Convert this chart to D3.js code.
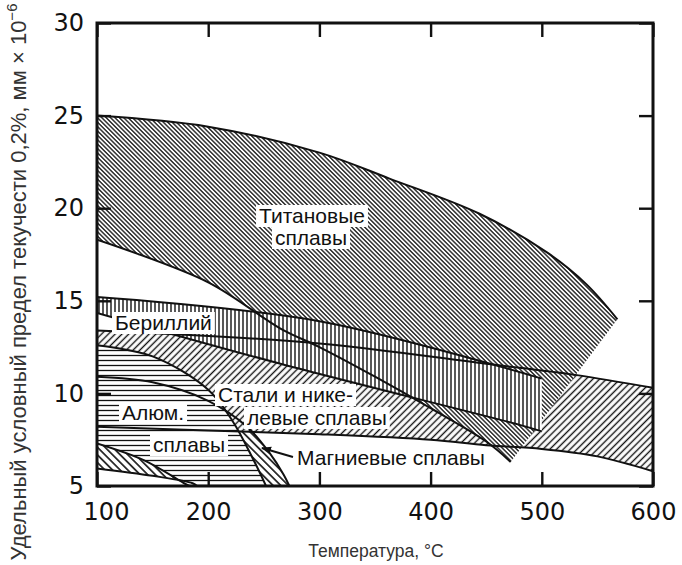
<!DOCTYPE html>
<html>
<head>
<meta charset="utf-8">
<script src="https://cdn.jsdelivr.net/npm/d3@7"></script>
<style>
  body { margin: 0; background: #fff; }
  svg { display: block; }
  .tick text { font-family: "DejaVu Sans", sans-serif; font-size: 24px; fill: #111; }
  .lbl { font-family: "Liberation Sans", Arial, sans-serif; font-size: 21px; fill: #111; }
  .title { font-family: "Liberation Sans", Arial, sans-serif; fill: #333; }
</style>
</head>
<body>
<div id="chart"></div>
<script>
// temperature ticks and value ticks
const xTicks = [100, 200, 300, 400, 500, 600]
const yTicks = [5, 10, 15, 20, 25, 30]

// band boundaries, [temperature, value]
const tiUpper = [[100, 25.0], [200, 24.4], [300, 23.0], [363, 21.6], [444, 19.7], [505, 17.6], [540, 15.9], [568, 14.0]]
const tiLower = [[100, 18.3], [200, 16.0], [265, 13.5], [300, 12.5], [350, 10.9], [400, 9.2], [450, 7.4], [472, 6.3]]
const beUpper = [[100, 15.2], [300, 13.9], [500, 10.8]]
const beLower = [[100, 14.35], [265, 11.6], [480, 8.3], [500, 7.95]]
const stUpper = [[100, 13.4], [300, 12.7], [450, 11.6], [530, 11.0], [600, 10.3]]
const stLower = [[100, 8.2], [200, 8.0], [300, 7.8], [400, 7.5], [450, 7.2], [500, 7.0], [550, 6.6], [600, 5.8]]
const alUpper = [[100, 12.6], [150, 12.0], [200, 10.2], [222, 8.5], [240, 6.5], [252, 5.0]]
const alLower = [[100, 7.3], [142, 6.4], [177, 5.2], [183, 5.0]]
const mgUpper = [[100, 10.9], [150, 10.6], [200, 9.6], [235, 8.2], [255, 6.8], [268, 5.6], [273, 5.0]]
const mgLower = [[100, 5.95], [150, 5.55], [186, 5.15], [190, 5.0]]

const width = 682
const height = 565
const margin = {top: 23, right: 29, bottom: 79, left: 97}
const chartWidth = width - margin.left - margin.right
const chartHeight = height - margin.top - margin.bottom

const x = d3.scaleLinear().domain([100, 600]).range([0, chartWidth])
const y = d3.scaleLinear().domain([5, 30]).range([chartHeight, 0])

const svg = d3.select('#chart').append('svg')
  .attr('width', width)
  .attr('height', height)

const defs = svg.append('defs')

function hatch(id, gap, angle, sw) {
  const p = defs.append('pattern')
    .attr('id', id)
    .attr('patternUnits', 'userSpaceOnUse')
    .attr('width', gap)
    .attr('height', 20)
    .attr('patternTransform', `rotate(${angle})`)
  p.append('rect').attr('width', gap).attr('height', 20).attr('fill', '#fff')
  p.append('line')
    .attr('x1', gap / 2).attr('x2', gap / 2)
    .attr('y1', 0).attr('y2', 20)
    .attr('stroke', '#111')
    .attr('stroke-width', sw)
}
hatch('h-ti', 3.1, -45, 1.3)
hatch('h-st', 4.8, 45, 1.4)
hatch('h-be', 4.0, 0, 1.4)
hatch('h-al', 5.0, 90, 1.3)
hatch('h-mg', 5.4, -45, 1.6)

defs.append('clipPath').attr('id', 'plot-clip')
  .append('rect').attr('width', chartWidth).attr('height', chartHeight)

const g = svg.append('g')
  .attr('transform', `translate(${margin.left}, ${margin.top})`)

const bands = g.append('g').attr('clip-path', 'url(#plot-clip)')

const curve = d3.line()
  .x(d => x(d[0]))
  .y(d => y(d[1]))
  .curve(d3.curveCatmullRom)

function band(upper, lower, fill) {
  const up = curve(upper)
  const low = curve(lower.slice().reverse())
  bands.append('path')
    .attr('d', up + 'L' + low.slice(1) + 'Z')
    .attr('fill', `url(#${fill})`)
    .attr('stroke', 'none')
}

band(mgUpper, mgLower, 'h-mg')
band(stUpper, stLower, 'h-st')
band(tiUpper, tiLower, 'h-ti')
band(beUpper, beLower, 'h-be')
band(alUpper, alLower, 'h-al')

const outlines = [tiUpper, tiLower, beUpper, beLower, stUpper, stLower, alUpper, alLower, mgUpper, mgLower]
bands.selectAll('.edge')
  .data(outlines)
  .enter()
  .append('path')
  .attr('class', 'edge')
  .attr('d', d => curve(d))
  .attr('fill', 'none')
  .attr('stroke', '#111')
  .attr('stroke-width', 2)

// labels on white boxes
const labels = [
  {t: 'Титановые', x: 312, y: 223, a: 'middle'},
  {t: 'сплавы', x: 311, y: 245, a: 'middle'},
  {t: 'Бериллий', x: 115, y: 330, a: 'start'},
  {t: 'Стали и нике-', x: 218, y: 402, a: 'start'},
  {t: 'левые сплавы', x: 247, y: 425, a: 'start'},
  {t: 'Алюм.', x: 122, y: 420, a: 'start'},
  {t: 'сплавы', x: 153, y: 452, a: 'start'},
  {t: 'Магниевые сплавы', x: 297, y: 465, a: 'start'}
]
const lg = svg.append('g')
labels.forEach(l => {
  const box = lg.append('rect').attr('fill', '#fff')
  const txt = lg.append('text')
    .attr('class', 'lbl')
    .attr('x', l.x)
    .attr('y', l.y)
    .attr('text-anchor', l.a)
    .text(l.t)
  const b = txt.node().getBBox()
  box.attr('x', b.x - 3).attr('y', b.y + 1).attr('width', b.width + 6).attr('height', b.height - 1)
})

// arrow for magnesium
defs.append('marker')
  .attr('id', 'arrow')
  .attr('viewBox', '0 0 10 10')
  .attr('refX', 9).attr('refY', 5)
  .attr('markerWidth', 5).attr('markerHeight', 5)
  .attr('orient', 'auto')
  .append('path').attr('d', 'M0,1L10,5L0,9Z').attr('fill', '#111')
svg.append('line')
  .attr('x1', 293).attr('y1', 457)
  .attr('x2', 262).attr('y2', 448)
  .attr('stroke', '#111')
  .attr('stroke-width', 2)
  .attr('marker-end', 'url(#arrow)')

// axes with inward ticks
const xAxis = g.append('g')
  .attr('transform', `translate(0, ${chartHeight})`)
  .call(d3.axisBottom(x).tickValues(xTicks).tickSize(-14).tickPadding(17))
const xTop = g.append('g')
  .call(d3.axisTop(x).tickValues(xTicks).tickSize(-14).tickFormat(''))
const yAxis = g.append('g')
  .call(d3.axisLeft(y).tickValues(yTicks).tickSize(-14).tickPadding(13))
const yRight = g.append('g')
  .attr('transform', `translate(${chartWidth}, 0)`)
  .call(d3.axisRight(y).tickValues(yTicks).tickSize(-14).tickFormat(''))

g.selectAll('.domain').remove()
g.selectAll('.tick line').attr('stroke', '#111').attr('stroke-width', 2.4)
xAxis.selectAll('.tick')
  .filter(d => d == 100)
  .select('text')
  .attr('dx', 9)

g.append('rect')
  .attr('width', chartWidth)
  .attr('height', chartHeight)
  .attr('fill', 'none')
  .attr('stroke', '#111')
  .attr('stroke-width', 3)

svg.append('text')
  .attr('class', 'title')
  .style('font-size', '17.5px')
  .attr('x', 376)
  .attr('y', 557)
  .attr('text-anchor', 'middle')
  .text('Температура, °C')

const yt = svg.append('text')
  .attr('class', 'title')
  .style('font-size', '22px')
  .attr('transform', `translate(26, 282) rotate(-90)`)
  .attr('text-anchor', 'middle')
yt.append('tspan').text('Удельный условный предел текучести 0,2%, мм × 10')
yt.append('tspan').attr('dy', -9).style('font-size', '15px').text('−6')
</script>
</body>
</html>
